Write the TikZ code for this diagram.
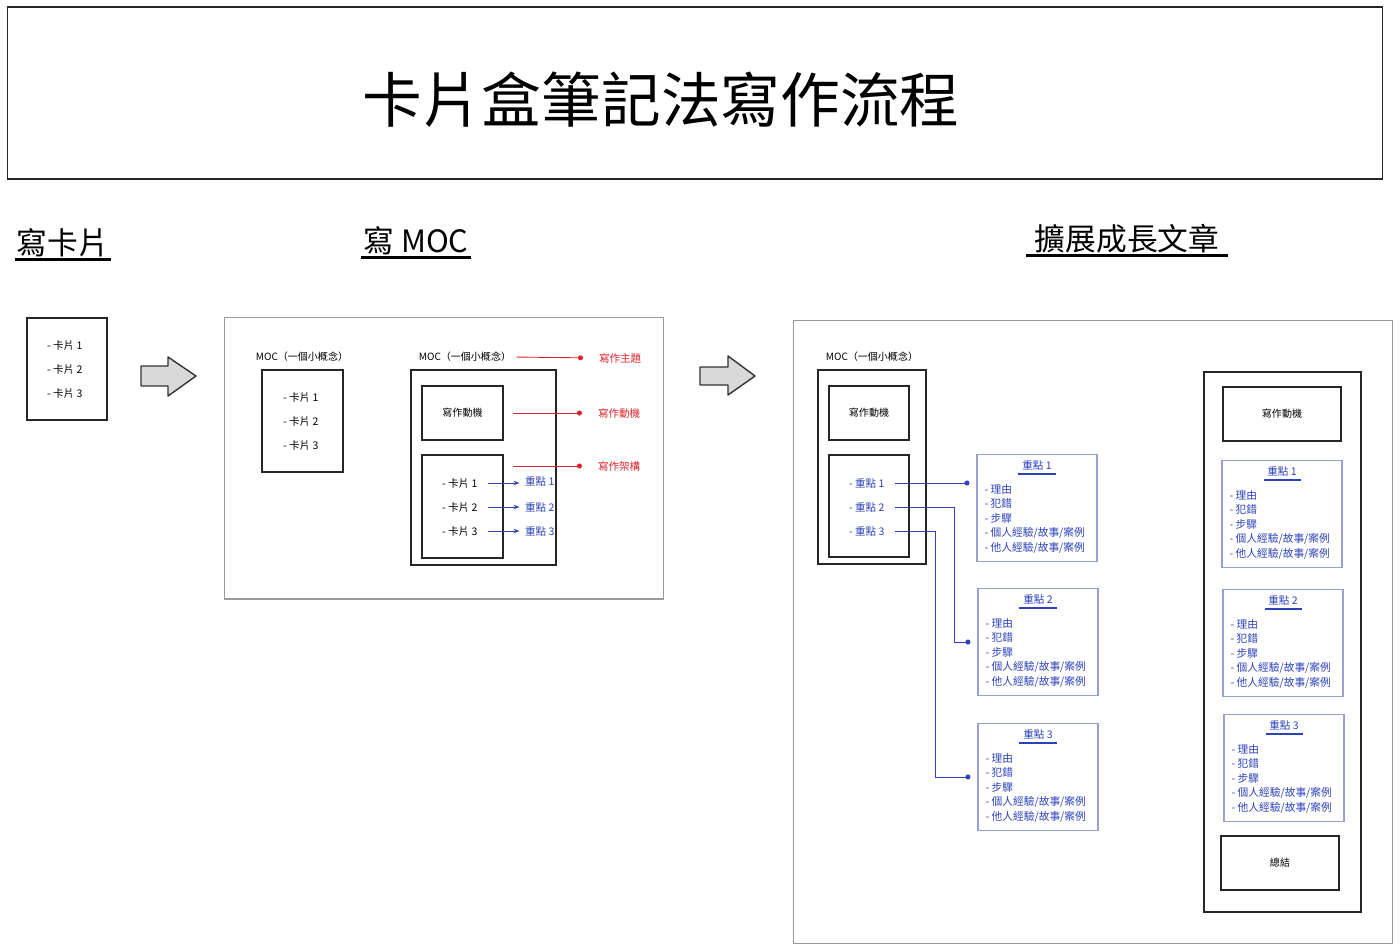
\documentclass[tikz,border=0pt]{standalone}
\usepackage{fontspec}
\setmainfont{Noto Sans CJK TC}
\usetikzlibrary{arrows.meta}
\definecolor{ptblue}{RGB}{45,65,185}
\definecolor{ptedge}{RGB}{150,160,210}
\definecolor{ptred}{RGB}{220,35,45}
\newcommand{\ptlist}{- 理由\\- 犯錯\\- 步驟\\- 個人經驗/故事/案例\\- 他人經驗/故事/案例}

\begin{document}
\begin{tikzpicture}[x=0.02cm, y=-0.02cm,
	every node/.style={font=\fontsize{5.7}{8.3}\selectfont, inner sep=1pt},
	frame/.style={draw=black!85, line width=0.7pt},
	outer/.style={draw=black!40, line width=0.6pt},
	ptbox/.style={draw=ptedge, line width=0.6pt, minimum width=2.4cm, minimum height=2.14cm},
	head/.style={font=\fontsize{17.5}{20}\selectfont},
	item/.style={anchor=west, font=\fontsize{6}{8.3}\selectfont},
	blueitem/.style={item, text=ptblue},
	redlink/.style={ptred, line width=0.5pt, -{Circle[length=1mm]}},
	bluelink/.style={ptblue, line width=0.5pt, -{Circle[length=1mm]}},
	blockarrow/.style={draw=black!80, line width=0.8pt, fill=gray!30, line join=round}]

	\useasboundingbox (0,0) rectangle (1400,951);

	% title
	\node[frame, minimum width=27.52cm, minimum height=3.44cm] (titlebox) at (695,93) {};
	\node[font=\fontsize{34}{40}\selectfont] (title) at (661,100) {卡片盒筆記法寫作流程};

	% headings
	\node[head] (h1) at (63,243) {寫卡片};
	\node[head] (h2) at (416,241) {寫 MOC};
	\node[head] (h3) at (1127,239) {擴展成長文章};
	\draw[line width=1.6pt] (h1.south west) -- (h1.south east);
	\draw[line width=1.6pt] (h2.south west) -- (h2.south east);
	\draw[line width=1.6pt] ([xshift=-4pt]h3.south west) -- ([xshift=4pt]h3.south east);

	% cards
	\node[frame, minimum width=1.6cm, minimum height=2.04cm] (cards) at (67,369) {};
	\node[item] (ca1) at (45,346) {- 卡片 1};
	\node[item] (ca2) at (45,370) {- 卡片 2};
	\node[item] (ca3) at (45,394) {- 卡片 3};
	\draw[blockarrow] (141,366) -- (168,366) -- (168,357) -- (196,376) -- (168,396) -- (168,386) -- (141,386) -- cycle;

	% MOC
	\node[outer, minimum width=8.8cm, minimum height=5.64cm] (mocarea) at (444,458) {};
	\node (mocA) at (302,357) {MOC（一個小概念）};
	\node[frame, minimum width=1.62cm, minimum height=2.04cm] (mocAbox) at (302.5,421) {};
	\node[item] (mb1) at (281,398) {- 卡片 1};
	\node[item] (mb2) at (281,422) {- 卡片 2};
	\node[item] (mb3) at (281,446) {- 卡片 3};
	\node (mocB) at (465,357) {MOC（一個小概念）};
	\node[frame, minimum width=2.9cm, minimum height=3.9cm] (mocBbox) at (483.5,467.5) {};
	\node[frame, minimum width=1.62cm, minimum height=1.08cm] (mocBmot) at (462.5,413) {寫作動機};
	\node[frame, minimum width=1.62cm, minimum height=2.06cm] (mocBlist) at (462.5,506.5) {};
	\node[item] (mc1) at (440,483) {- 卡片 1};
	\node[item] (mc2) at (440,507) {- 卡片 2};
	\node[item] (mc3) at (440,531) {- 卡片 3};
	\node[blueitem] (mk1) at (523,481) {重點 1};
	\node[blueitem] (mk2) at (523,507) {重點 2};
	\node[blueitem] (mk3) at (523,531) {重點 3};
	\draw[ptblue, line width=0.5pt, -{Stealth[length=1.2mm]}, shorten <=5pt, shorten >=2pt] (mc1.east) -- (mk1.west |- mc1.east);
	\draw[ptblue, line width=0.5pt, -{Stealth[length=1.2mm]}, shorten <=5pt, shorten >=2pt] (mc2.east) -- (mk2.west);
	\draw[ptblue, line width=0.5pt, -{Stealth[length=1.2mm]}, shorten <=5pt, shorten >=2pt] (mc3.east) -- (mk3.west);
	\node[item, text=ptred] (topic) at (597,358) {寫作主題};
	\node[item, text=ptred] (motive) at (596,413) {寫作動機};
	\node[item, text=ptred] (frame) at (596,466) {寫作架構};
	\draw[redlink, shorten <=2pt, shorten >=8pt] (mocB.east) -- (topic.west);
	\draw[redlink, shorten <=5.5pt, shorten >=8pt] (mocBmot.east) -- (motive.west);
	\draw[redlink, shorten <=5.5pt, shorten >=8pt] (mocBlist.east |- frame.west) -- (frame.west);
	\draw[blockarrow] (700,367) -- (728,367) -- (728,356) -- (755,376) -- (728,395) -- (728,385) -- (700,385) -- cycle;

	% grow into an article
	\node[outer, minimum width=12cm, minimum height=12.48cm] (growarea) at (1093,632) {};
	\node (mocC) at (872,357) {MOC（一個小概念）};
	\node[frame, minimum width=2.16cm, minimum height=3.88cm] (mocCbox) at (872,467) {};
	\node[frame, minimum width=1.6cm, minimum height=1.08cm] (mocCmot) at (869,413) {寫作動機};
	\node[frame, minimum width=1.6cm, minimum height=2.04cm] (mocClist) at (869,506) {};
	\node[blueitem] (rp1) at (847,483) {- 重點 1};
	\node[blueitem] (rp2) at (847,507) {- 重點 2};
	\node[blueitem] (rp3) at (847,531) {- 重點 3};

	\node[frame, minimum width=3.14cm, minimum height=10.8cm] (column) at (1282.5,642) {};
	\node[frame, minimum width=2.36cm, minimum height=1.08cm] (colmot) at (1282,414) {寫作動機};
	\node[frame, minimum width=2.36cm, minimum height=1.08cm] (summary) at (1280,863) {總結};

	\foreach \nm/\cx/\cy/\k in {d1/1037/508/1, d2/1038/642/2, d3/1038/777/3, e1/1282/514/1, e2/1283/643/2, e3/1284/768/3} {
		\node[ptbox] (\nm) at (\cx,\cy) {};
		\node[text=ptblue, inner xsep=2pt, inner ysep=1.5pt, font=\fontsize{6}{8.3}\selectfont] (\nm t) at ([shift={(0,12)}]\nm.north) {重點 \k};
		\draw[ptblue, line width=0.9pt] (\nm t.south west) -- (\nm t.south east);
		\node[anchor=north west, align=left, text=ptblue, font=\fontsize{6.1}{8.3}\selectfont] (\nm l) at ([shift={(6,28)}]\nm.north west) {\ptlist};
	}

	\draw[bluelink, shorten <=5pt, shorten >=4pt] (rp1.east) -- (rp1.east -| d1.west);
	\draw[bluelink, shorten <=5pt, shorten >=4pt] (rp2.east) -- ++(68,0) |- (d2.west);
	\draw[bluelink, shorten <=5pt, shorten >=4pt] (rp3.east) -- ++(49,0) |- (d3.west);
\end{tikzpicture}
\end{document}
